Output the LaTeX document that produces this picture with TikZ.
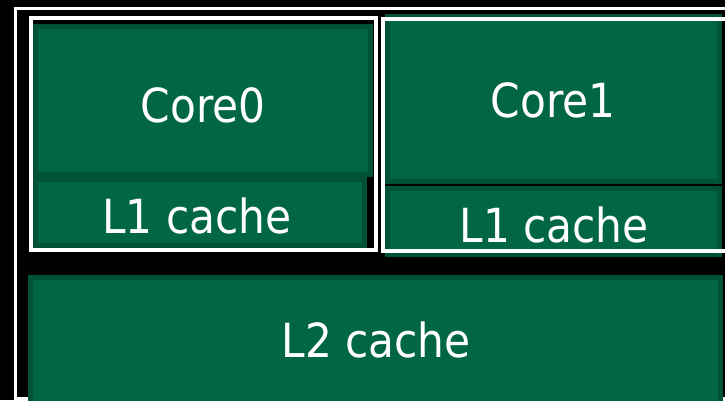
\documentclass[tikz,border=0pt]{standalone}
\usepackage{fontspec}
\setmainfont{DejaVu Sans Condensed}
\definecolor{chipgreen}{RGB}{0,102,70}
\definecolor{chipedge}{RGB}{0,82,55}
\begin{document}
\begin{tikzpicture}[x=1pt,y=-1pt,
  block/.style={draw=chipedge, fill=chipgreen, line width=5pt, inner sep=0pt, outer sep=0pt, rectangle},
  coreframe/.style={draw=white, line width=4pt},
  dieframe/.style={draw=white, line width=3pt},
  blocklabel/.style={text=white, font=\fontsize{47}{47}\selectfont, anchor=base, inner sep=0pt}]
  \useasboundingbox (0,0) rectangle (725,400);
  \fill[black] (0,0) rectangle (725,400);
  \begin{scope}
    \clip (0,0) rectangle (725,400);
    % die outline
    \draw[dieframe] (15.5,8.5) rectangle (745,398.5);
    % functional blocks
    \node[block, minimum width=335pt, minimum height=148pt] (core0) at (203,100.5) {};
    \node[block, minimum width=329pt, minimum height=66pt] (l1a) at (200,212.5) {};
    \node[block, minimum width=332pt, minimum height=165pt] (core1) at (553.5,99) {};
    \node[block, minimum width=332pt, minimum height=66pt] (l1b) at (553.5,221.5) {};
    \node[block, minimum width=690pt, minimum height=127.5pt] (l2) at (375.5,341.25) {};
    % per-core outlines
    \draw[coreframe] (30.5,17.5) rectangle (375.5,249.5);
    \draw[coreframe] (382.5,19) rectangle (745,250.5);
  \end{scope}
  % labels
  \node[blocklabel] (core0text) at (203,122) {Core0};
  \node[blocklabel] (l1atext) at (197,233) {L1 cache};
  \node[blocklabel] (core1text) at (553,117) {Core1};
  \node[blocklabel] (l1btext) at (554,242) {L1 cache};
  \node[blocklabel] (l2text) at (376,357) {L2 cache};
\end{tikzpicture}
\end{document}
